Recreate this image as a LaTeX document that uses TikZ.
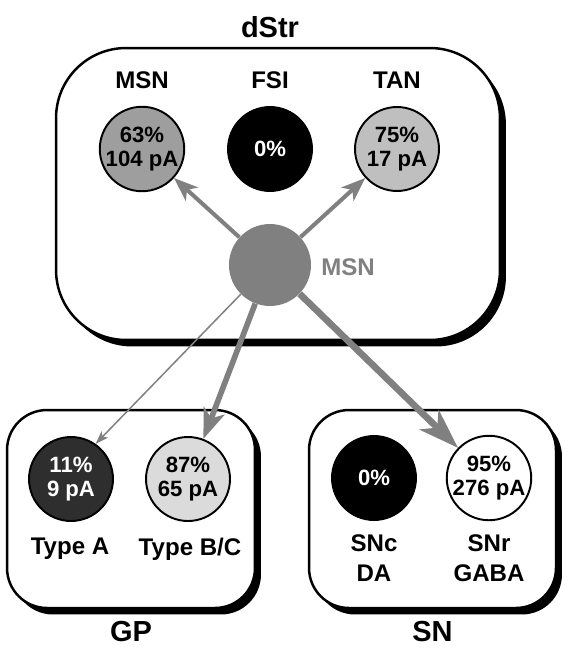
\documentclass[tikz,border=0pt]{standalone}
\usepackage{fontspec}
\setmainfont{Liberation Sans}
\usetikzlibrary{positioning}
\usetikzlibrary{arrows.meta, shadows}

\definecolor{projgray}{gray}{0.5}
\definecolor{msnfill}{gray}{0.62}
\definecolor{tanfill}{gray}{0.75}
\definecolor{typeafill}{gray}{0.18}
\definecolor{typebcfill}{gray}{0.86}

\tikzset{
  regionbox/.style={draw=black, line width=1.4pt, fill=white, rounded corners=#1,
    drop shadow={shadow xshift=0.12cm, shadow yshift=-0.13cm, fill=black, opacity=1}},
  cell/.style={circle, draw=black, line width=1.1pt, minimum size=1.68cm, inner sep=0pt,
    align=center, font=\fontsize{12.6}{13.4}\selectfont\bfseries},
  headlbl/.style={font=\fontsize{16.5}{19}\selectfont\bfseries},
  celllbl/.style={font=\fontsize{13.7}{17}\selectfont\bfseries, align=center},
  proj/.style={draw=projgray, fill=projgray},
}

\begin{document}
\begin{tikzpicture}[x=0.02cm, y=-0.02cm]
\useasboundingbox (0,0) rectangle (570,653);

% regions
\node[regionbox=1.4cm, minimum width=8.88cm, minimum height=5.84cm] (dstrbox) at (278,194) {};
\node[regionbox=0.8cm, minimum width=4.96cm, minimum height=3.96cm] (gpbox) at (131,509) {};
\node[regionbox=0.8cm, minimum width=4.94cm, minimum height=3.96cm] (snbox) at (432.5,509) {};

\node[headlbl] (dstrlbl) at (270,27) {dStr};
\node[headlbl, below=0.12cm of gpbox] (gplbl) {GP};
\node[headlbl, below=0.12cm of snbox] (snlbl) {SN};

% dStr cells
\node[celllbl] (msnlbl) at (142,80) {MSN};
\node[celllbl] (fsilbl) at (270,80) {FSI};
\node[celllbl] (tanlbl) at (397,80) {TAN};
\node[cell, fill=msnfill] (msn) at (142,149) {63\%\\104 pA};
\node[cell, fill=black, text=white] (fsi) at (270,149) {0\%};
\node[cell, fill=tanfill] (tan) at (397,149) {75\%\\17 pA};

% source MSN
\node[circle, fill=projgray, minimum size=1.64cm, inner sep=0pt] (src) at (270,265) {};
\node[celllbl, text=projgray] (srclbl) at (348,267) {MSN};

% GP cells
\node[cell, fill=typeafill, text=white] (typea) at (71,479) {11\%\\9 pA};
\node[cell, fill=typebcfill] (typebc) at (188,479) {87\%\\65 pA};
\node[celllbl] (typealbl) at (70,549) {Type A};
\node[celllbl] (typebclbl) at (190,549) {Type B/C};

% SN cells
\node[cell, fill=black, text=white] (snc) at (374,478) {0\%};
\node[cell, fill=white] (snr) at (489,478) {95\%\\276 pA};
\node[celllbl] (snclbl) at (374,558) {SNc\\DA};
\node[celllbl] (snrlbl) at (489,558) {SNr\\GABA};

% projections
\draw[proj, line width=2.3pt, -{Stealth[length=0.48cm, width=0.36cm, inset=0.13cm]}] (src) -- (msn);
\draw[proj, line width=2.3pt, -{Stealth[length=0.48cm, width=0.36cm, inset=0.13cm]}] (src) -- (tan);
\draw[proj, line width=0.85pt, -{Stealth[length=0.26cm, width=0.18cm, inset=0.06cm]}] (src.225) -- (typea.55);
\draw[proj, line width=3.2pt, -{Stealth[length=0.6cm, width=0.44cm, inset=0.16cm]}] (src) -- (typebc);
\draw[proj, line width=3.8pt, -{Stealth[length=0.8cm, width=0.54cm, inset=0.22cm]}] (src) -- (snr);

\end{tikzpicture}
\end{document}
